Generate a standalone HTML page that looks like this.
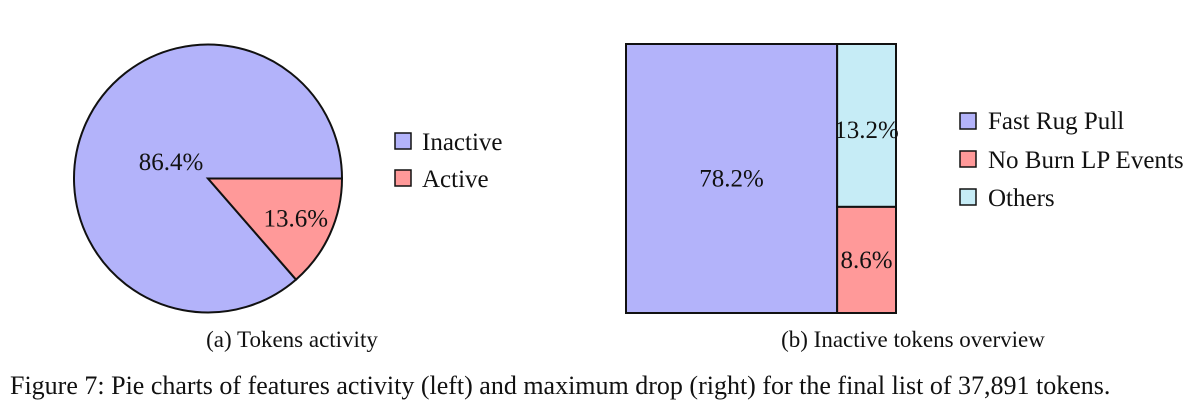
<!DOCTYPE html>
<html><head><meta charset="utf-8"><style>
body{margin:0;background:#fff;}
svg text{font-family:"Liberation Serif",serif;fill:#111;}
</style></head><body>
<svg width="1200" height="406" viewBox="0 0 1200 406">
<g id="pie"></g>
<g id="tree"></g>
<g>
 <rect x="395" y="133" width="16" height="16" fill="#b3b3fa" stroke="#111" stroke-width="1.5"/>
 <text x="422" y="150" font-size="25">Inactive</text>
 <rect x="395" y="170" width="16" height="16" fill="#ff9999" stroke="#111" stroke-width="1.5"/>
 <text x="422" y="187" font-size="25">Active</text>
</g>
<g>
 <rect x="960" y="113" width="16" height="16" fill="#b3b3fa" stroke="#111" stroke-width="1.5"/>
 <text x="988" y="129" font-size="25">Fast Rug Pull</text>
 <rect x="960" y="151" width="16" height="16" fill="#ff9999" stroke="#111" stroke-width="1.5"/>
 <text x="988" y="168" font-size="25">No Burn LP Events</text>
 <rect x="960" y="189" width="16" height="16" fill="#c6ecf6" stroke="#111" stroke-width="1.5"/>
 <text x="988" y="206" font-size="25">Others</text>
</g>
<text x="292" y="347" font-size="23" text-anchor="middle">(a) Tokens activity</text>
<text x="913" y="347" font-size="23" text-anchor="middle">(b) Inactive tokens overview</text>
<text x="10" y="394" font-size="26">Figure 7: Pie charts of features activity (left) and maximum drop (right) for the final list of 37,891 tokens.</text>
</svg>
<script>
const pieLabels=["Inactive","Active"];
const pieValues=[86.4,13.6];
const treeLabels=["Fast Rug Pull","Others","No Burn LP Events"];
const treeValues=[78.2,13.2,8.6];
const NS="http://www.w3.org/2000/svg";
function mk(t,a,p){const e=document.createElementNS(NS,t);for(const k in a)e.setAttribute(k,a[k]);p.appendChild(e);return e;}
const pieColors=["#b3b3fa","#ff9999"];
(function(){
 const g=document.getElementById('pie');const cx=208,cy=178.5,r=134;
 const tot=pieValues.reduce((a,b)=>a+b,0);
 const aA=pieValues[1]/tot*2*Math.PI;
 const ang=[[aA,2*Math.PI],[0,aA]];
 const labR=[0.3,0.72];
 for(let i=0;i<2;i++){
  const [a0,a1]=ang[i];
  const x0=cx+r*Math.cos(a0),y0=cy+r*Math.sin(a0),x1=cx+r*Math.cos(a1),y1=cy+r*Math.sin(a1);
  const large=(a1-a0)>Math.PI?1:0;
  const p=mk('path',{d:`M${cx},${cy}L${x0},${y0}A${r},${r} 0 ${large} 1 ${x1},${y1}Z`,fill:pieColors[i],stroke:'#111','stroke-width':2},g);
  
  
 }
 for(let i=0;i<2;i++){
  const [a0,a1]=ang[i];let m=(a0+a1)/2;
  let lx,ly;
  if(i===0){lx=171;ly=162;}else{lx=cx+r*labR[i]*Math.cos(m);ly=cy+r*labR[i]*Math.sin(m);}
  const t=mk('text',{x:lx,y:ly+8,'font-size':25,'text-anchor':'middle'},g);
  t.textContent=pieValues[i].toFixed(1)+'%';
  
  
 }
})();
(function(){
 const g=document.getElementById('tree');const X=626,Y=44,W=270,H=269;
 const tot=treeValues.reduce((a,b)=>a+b,0);
 const w0=W*treeValues[0]/tot;
 const rest=treeValues[1]+treeValues[2];
 const h1=H*treeValues[1]/rest;
 const rects=[[X,Y,w0,H,'#b3b3fa'],[X+w0,Y,W-w0,h1,'#c6ecf6'],[X+w0,Y+h1,W-w0,H-h1,'#ff9999']];
 rects.forEach((rc,i)=>{
  const r=mk('rect',{x:rc[0],y:rc[1],width:rc[2],height:rc[3],fill:rc[4],stroke:'#111','stroke-width':2},g);
  
  
 });
 rects.forEach((rc,i)=>{
  const t=mk('text',{x:rc[0]+rc[2]/2,y:(i===1?rc[1]+94:rc[1]+rc[3]/2+8),'font-size':25,'text-anchor':'middle'},g);
  t.textContent=treeValues[i].toFixed(1)+'%';
  
  
 });
})();
</script>
</body></html>
